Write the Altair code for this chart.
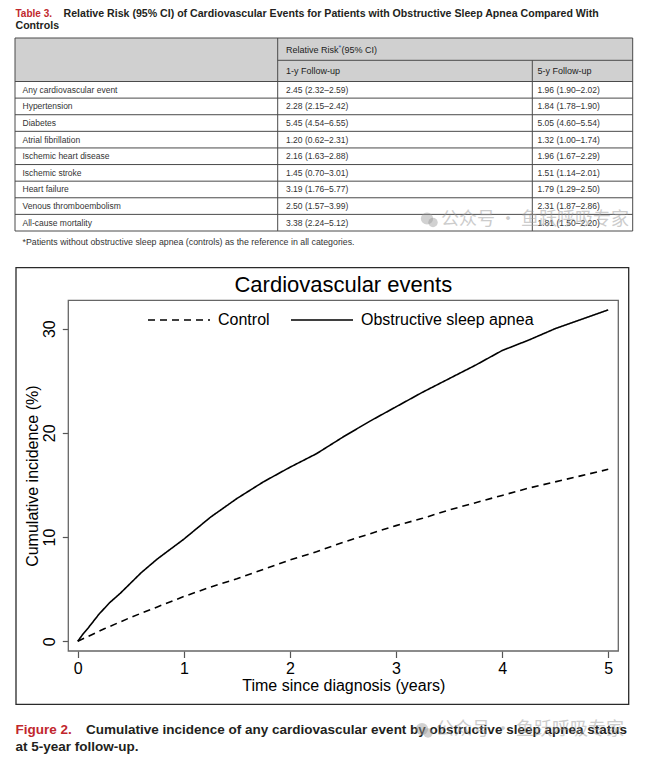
import altair as alt
import pandas as pd

# ---------------- data ----------------
TABLE_LABEL = "Table 3."
TABLE_TITLE_1 = "Relative Risk (95% CI) of Cardiovascular Events for Patients with Obstructive Sleep Apnea Compared With"
TABLE_TITLE_2 = "Controls"
HEADER_RR = ["Relative Risk", "*", " (95% CI)"]
HEADER_COLS = ["1-y Follow-up", "5-y Follow-up"]
categories = [
    "Any cardiovascular event", "Hypertension", "Diabetes", "Atrial fibrillation",
    "Ischemic heart disease", "Ischemic stroke", "Heart failure",
    "Venous thromboembolism", "All-cause mortality",
]
rr_1y = [
    "2.45 (2.32–2.59)", "2.28 (2.15–2.42)", "5.45 (4.54–6.55)", "1.20 (0.62–2.31)",
    "2.16 (1.63–2.88)", "1.45 (0.70–3.01)", "3.19 (1.76–5.77)", "2.50 (1.57–3.99)",
    "3.38 (2.24–5.12)",
]
rr_5y = [
    "1.96 (1.90–2.02)", "1.84 (1.78–1.90)", "5.05 (4.60–5.54)", "1.32 (1.00–1.74)",
    "1.96 (1.67–2.29)", "1.51 (1.14–2.01)", "1.79 (1.29–2.50)", "2.31 (1.87–2.86)",
    "1.81 (1.50–2.20)",
]
FOOTNOTE = "*Patients without obstructive sleep apnea (controls) as the reference in all categories."

CHART_TITLE = "Cardiovascular events"
X_TITLE = "Time since diagnosis (years)"
Y_TITLE = "Cumulative incidence (%)"
x_ticks = [0, 1, 2, 3, 4, 5]
y_ticks = [0, 10, 20, 30]
series_names = ["Control", "Obstructive sleep apnea"]
control_t = [0, 0.25, 0.5, 0.75, 1.0, 1.25, 1.5, 1.75, 2.0, 2.25, 2.5, 2.75, 3.0,
             3.25, 3.5, 3.75, 4.0, 4.25, 4.5, 4.75, 5.0]
control_v = [0, 1.2, 2.3, 3.3, 4.3, 5.2, 6.0, 6.9, 7.8, 8.6, 9.5, 10.3, 11.1,
             11.8, 12.6, 13.3, 14.0, 14.7, 15.3, 15.9, 16.5]
osa_t = [0, 0.05, 0.1, 0.2, 0.3, 0.4, 0.5, 0.6, 0.75, 1.0, 1.25, 1.5, 1.75, 2.0,
         2.25, 2.5, 2.75, 3.0, 3.25, 3.5, 3.75, 4.0, 4.25, 4.5, 4.75, 5.0]
osa_v = [0, 0.7, 1.3, 2.6, 3.7, 4.6, 5.6, 6.6, 7.9, 9.8, 11.9, 13.7, 15.3, 16.7,
         18.0, 19.6, 21.1, 22.5, 23.9, 25.2, 26.5, 27.9, 28.9, 30.0, 30.9, 31.8]

FIG_LABEL = "Figure 2."
FIG_CAPTION_1 = "Cumulative incidence of any cardiovascular event by obstructive sleep apnea status"
FIG_CAPTION_2 = "at 5-year follow-up."
WATERMARK = "公众号 · 鱼跃呼吸专家"

# ---------------- layout / style ----------------
FONT = "Liberation Sans"
CJK = "Noto Sans CJK SC"
RED = "#c1272d"
DARK = "#231f20"
LINE = "#4a4a4a"
WM_GRAY = "#9a9a9a"
PX0, PX1 = 8, 637            # page x span of the chart
A_Y0, A_Y1 = 8, 264          # table section page y span
B_Y0, B_Y1 = 264, 702        # figure section page y span
C_Y0, C_Y1 = 702, 752        # caption section page y span
T_L, T_R = 15, 632.7
T_TOP, T_MID, T_HB, T_BOT = 35, 57.3, 78.5, 228
ROW_H = (T_BOT - T_HB) / len(categories)
COL1, COL2 = 277.7, 532.3
TXT0, TXT1, TXT2 = 22.5, 286, 537.5
WM_A = (441, 216.5)
WM_C = (436, 727)

# figure: plot box and outer frame, page px
BOX_L, BOX_R, BOX_T, BOX_B = 68.3, 618.3, 297.3, 648.0
FR_L, FR_R = 16, 628.7
TITLE_Y = 282
XDOM = [-0.089, 5.095]
YDOM = [-0.93, 32.72]
PX_PER_X = (BOX_R - BOX_L) / (XDOM[1] - XDOM[0])
PX_PER_Y = (BOX_B - BOX_T) / (YDOM[1] - YDOM[0])
XR = [BOX_L - PX0, BOX_R - PX0]
YR = [BOX_B - B_Y0, BOX_T - B_Y0]


def to_t(px):
    return XDOM[0] + (px - BOX_L) / PX_PER_X


def to_v(py):
    return YDOM[0] + (BOX_B - py) / PX_PER_Y


def sx():
    return alt.Scale(domain=[PX0, PX1], nice=False, zero=False)


def sy(y0, y1):
    return alt.Scale(domain=[y0, y1], nice=False, zero=False, reverse=True)


def texts(df, y0, y1, **mark):
    return alt.Chart(df).mark_text(align="left", baseline="middle", font=FONT, **mark).encode(
        x=alt.X("x:Q", scale=sx(), axis=None),
        y=alt.Y("y:Q", scale=sy(y0, y1), axis=None),
        text="t:N",
    )


def tdf(xs, ys, ts):
    return pd.DataFrame({"x": xs, "y": ys, "t": ts})


def watermark(pos, y0, y1):
    icon = alt.Chart(pd.DataFrame({"x": [pos[0] - 14, pos[0] - 8], "y": [pos[1] - 1, pos[1] + 3],
                                   "s": [150, 90]})).mark_circle(
        color=WM_GRAY, opacity=0.45).encode(
        x=alt.X("x:Q", scale=sx(), axis=None),
        y=alt.Y("y:Q", scale=sy(y0, y1), axis=None),
        size=alt.Size("s:Q", scale=None, legend=None))
    txt = alt.Chart(tdf([pos[0]], [pos[1]], [WATERMARK])).mark_text(
        align="left", baseline="middle", font=CJK, fontSize=18, color=WM_GRAY, opacity=0.5).encode(
        x=alt.X("x:Q", scale=sx(), axis=None),
        y=alt.Y("y:Q", scale=sy(y0, y1), axis=None), text="t:N")
    return [icon, txt]


# ---------------- section A: table ----------------
row_edges = [T_HB + i * ROW_H for i in range(len(categories) + 1)]
row_mid = [T_HB + (i + 0.5) * ROW_H for i in range(len(categories))]

header_bg = alt.Chart(pd.DataFrame({"x": [T_L], "x2": [T_R], "y": [T_TOP], "y2": [T_HB]})).mark_rect(
    fill="#d0d0d0").encode(
    x=alt.X("x:Q", scale=sx(), axis=None), x2="x2:Q",
    y=alt.Y("y:Q", scale=sy(A_Y0, A_Y1), axis=None), y2="y2:Q")

h_lines = pd.DataFrame({
    "x": [T_L, COL1] + [T_L] * len(row_edges),
    "x2": [T_R, T_R] + [T_R] * len(row_edges),
    "y": [T_TOP, T_MID] + row_edges,
})
hrules = alt.Chart(h_lines).mark_rule(color=LINE, strokeWidth=1).encode(
    x=alt.X("x:Q", scale=sx(), axis=None), x2="x2:Q",
    y=alt.Y("y:Q", scale=sy(A_Y0, A_Y1), axis=None))
v_lines = pd.DataFrame({
    "x": [T_L, COL1, T_R, COL2],
    "y": [T_TOP, T_TOP, T_TOP, T_MID],
    "y2": [T_BOT, T_BOT, T_BOT, T_BOT],
})
vrules = alt.Chart(v_lines).mark_rule(color=LINE, strokeWidth=1).encode(
    x=alt.X("x:Q", scale=sx(), axis=None),
    y=alt.Y("y:Q", scale=sy(A_Y0, A_Y1), axis=None), y2="y2:Q")

t_label = texts(tdf([15.5], [10.7], [TABLE_LABEL]), A_Y0, A_Y1, fontSize=10, fontWeight="bold", color=RED)
t_title = texts(tdf([63.5], [10.7], [TABLE_TITLE_1]), A_Y0, A_Y1,
                fontSize=10.6, fontWeight="bold", color=DARK)
t_title2 = texts(tdf([15.5], [23.3], [TABLE_TITLE_2]), A_Y0, A_Y1,
                 fontSize=10.6, fontWeight="bold", color=DARK)
hdr = texts(tdf([TXT1, TXT1 + 55.5, TXT1, TXT2], [46.7, 46.7, 68.3, 68.3],
                [HEADER_RR[0], HEADER_RR[2], HEADER_COLS[0], HEADER_COLS[1]]),
            A_Y0, A_Y1, fontSize=9, color="#222")
star = texts(tdf([TXT1 + 52.3], [45.3], [HEADER_RR[1]]), A_Y0, A_Y1, fontSize=8, color="#2b5fb8")
cells = texts(
    tdf([TXT0] * 9 + [TXT1] * 9 + [TXT2] * 9, row_mid * 3, categories + rr_1y + rr_5y),
    A_Y0, A_Y1, fontSize=8.5, color="#333")
foot = texts(tdf([22.5], [238.5], [FOOTNOTE]), A_Y0, A_Y1, fontSize=8.8, color="#333")

sec_a = alt.layer(header_bg, hrules, vrules, t_label, t_title, t_title2, hdr, star, cells, foot,
                  *watermark(WM_A, A_Y0, A_Y1)).properties(width=PX1 - PX0, height=A_Y1 - A_Y0)

# ---------------- section B: figure ----------------
df_lines = pd.DataFrame({
    "t": control_t + osa_t,
    "v": control_v + osa_v,
    "g": [series_names[0]] * len(control_t) + [series_names[1]] * len(osa_t),
})
xs = alt.Scale(domain=XDOM, range=XR, nice=False, zero=False)
ys = alt.Scale(domain=YDOM, range=YR, nice=False, zero=False)
x_axis = alt.Axis(
    values=x_ticks, format="d", title=X_TITLE, orient="bottom", offset=-(B_Y1 - BOX_B),
    domain=False, grid=False, tickSize=6.5, tickColor="#555", tickWidth=1.2,
    labelFontSize=16, labelFont=FONT, labelColor="black", labelPadding=3, labelAngle=0,
    labelFlush=False, labelOverlap=False,
    titleFontSize=16, titleFont=FONT, titleFontWeight="normal", titleColor="black", titlePadding=0.5)
y_axis = alt.Axis(
    values=y_ticks, format="d", title=Y_TITLE, orient="left", offset=-(BOX_L - PX0),
    domain=False, grid=False, tickSize=6, tickColor="#555", tickWidth=1.2,
    labelFontSize=16, labelFont=FONT, labelColor="black", labelPadding=5,
    labelAngle=270, labelAlign="center", labelBaseline="bottom",
    labelFlush=False, labelOverlap=False,
    titleFontSize=16, titleFont=FONT, titleFontWeight="normal", titleColor="black", titlePadding=1)

frame = alt.Chart(pd.DataFrame({
    "t": [to_t(FR_L)], "t2": [to_t(FR_R)], "v": [to_v(B_Y1 - 0.7)], "v2": [to_v(B_Y0 + 0.7)],
})).mark_rect(fill="white", fillOpacity=0, stroke="#2a2a2a", strokeWidth=1.3).encode(
    x=alt.X("t:Q", scale=xs, axis=x_axis), x2="t2:Q",
    y=alt.Y("v:Q", scale=ys, axis=y_axis), y2="v2:Q")
box = alt.Chart(pd.DataFrame({
    "t": [XDOM[0]], "t2": [XDOM[1]], "v": [YDOM[0]], "v2": [YDOM[1]],
})).mark_rect(fill="white", fillOpacity=0, stroke="#666", strokeWidth=1.3).encode(
    x=alt.X("t:Q", scale=xs, axis=x_axis), x2="t2:Q",
    y=alt.Y("v:Q", scale=ys, axis=y_axis), y2="v2:Q")

lines = alt.Chart(df_lines).mark_line(color="black", strokeWidth=1.6).encode(
    x=alt.X("t:Q", scale=xs, axis=x_axis),
    y=alt.Y("v:Q", scale=ys, axis=y_axis),
    strokeDash=alt.StrokeDash("g:N", scale=alt.Scale(domain=series_names, range=[[7, 5], [1, 0]]),
                              legend=alt.Legend(
                                  orient="none", legendX=139, legendY=277, direction="horizontal",
                                  title=None, symbolType="stroke", symbolSize=3844,
                                  symbolStrokeWidth=1.5, symbolStrokeColor="black",
                                  labelFontSize=16, labelFont=FONT, labelColor="black",
                                  labelOffset=7, columnPadding=18, padding=0, labelLimit=400)),
)
title_mark = alt.Chart(pd.DataFrame({
    "t": [(XDOM[0] + XDOM[1]) / 2], "v": [to_v(TITLE_Y)], "label": [CHART_TITLE],
})).mark_text(font=FONT, fontSize=22, color="black", align="center", baseline="middle").encode(
    x=alt.X("t:Q", scale=xs, axis=x_axis),
    y=alt.Y("v:Q", scale=ys, axis=y_axis),
    text="label:N")

sec_b = alt.layer(frame, box, lines, title_mark).properties(
    width=PX1 - PX0, height=B_Y1 - B_Y0)

# ---------------- section C: caption ----------------
c_label = texts(tdf([15.5], [727], [FIG_LABEL]), C_Y0, C_Y1, fontSize=13.5, fontWeight="bold", color=RED)
c_text = texts(tdf([86, 15.5], [727, 743.5], [FIG_CAPTION_1, FIG_CAPTION_2]), C_Y0, C_Y1,
               fontSize=13.5, fontWeight="bold", color=DARK)
sec_c = alt.layer(c_label, c_text, *watermark(WM_C, C_Y0, C_Y1)).properties(
    width=PX1 - PX0, height=C_Y1 - C_Y0)

chart = alt.vconcat(sec_a, sec_b, sec_c, spacing=0).properties(
    padding=0, background="white"
).configure_view(stroke=None)

chart.save("out.html", embed_options={"renderer": "svg", "actions": False})
